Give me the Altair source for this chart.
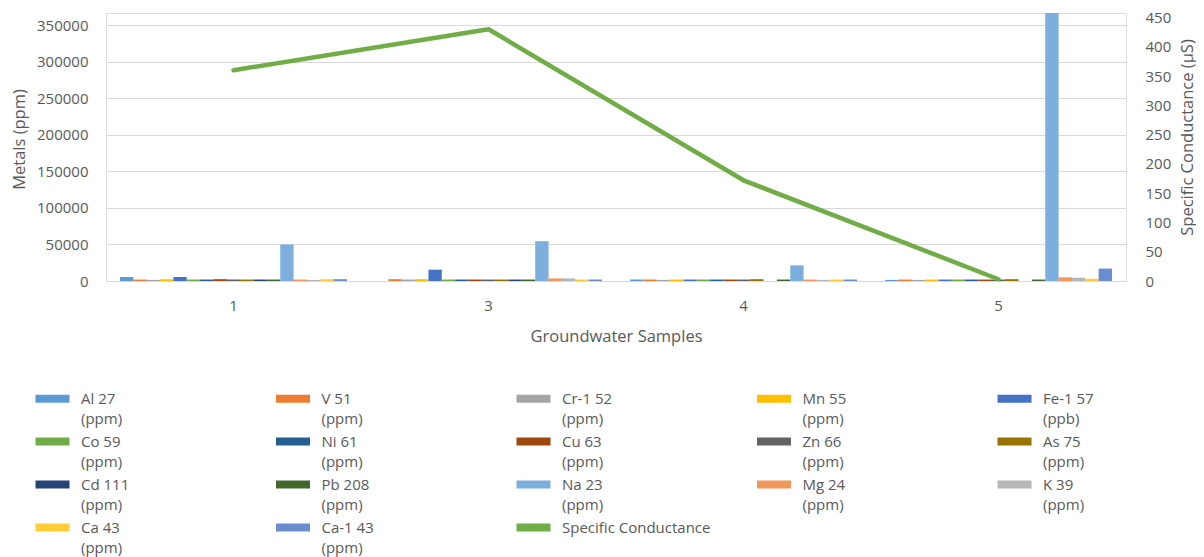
import altair as alt
import pandas as pd

samples = ["1", "3", "4", "5"]
metals = ["Al 27 (ppm)", "V 51 (ppm)", "Cr-1 52 (ppm)", "Mn 55 (ppm)", "Fe-1 57 (ppb)",
          "Co 59 (ppm)", "Ni 61 (ppm)", "Cu 63 (ppm)", "Zn 66 (ppm)", "As 75 (ppm)",
          "Cd 111 (ppm)", "Pb 208 (ppm)", "Na 23 (ppm)", "Mg 24 (ppm)", "K 39 (ppm)",
          "Ca 43 (ppm)", "Ca-1 43 (ppm)"]
metal_colors = ["#5b9bd5", "#ed7d31", "#a5a5a5", "#ffc000", "#4472c4",
                "#70ad47", "#255e91", "#9e480e", "#636363", "#997300",
                "#264478", "#43682b", "#7cafdd", "#f1975a", "#b7b7b7",
                "#ffcd33", "#698ed0"]

# metal values (ppm) per groundwater sample, in the order of `metals`
sample_1 = [5500, 2000, 1500, 2500, 5500, 2000, 2000, 2500, 2000, 2000, 2000, 2000, 50000, 2000, 1500, 2500, 2500]
sample_3 = [None, 2500, 2000, 2500, 15500, 2000, 2000, 2000, 2000, 2000, 2000, 2000, 54500, 3500, 3500, 2000, 2000]
sample_4 = [2000, 2000, 1500, 2000, 2000, 2000, 2000, 2000, 2000, 2500, None, 2000, 21500, 2000, 1500, 2000, 2000]
sample_5 = [1500, 2000, 1500, 2000, 2000, 2000, 2000, 2000, 2000, 2500, None, 2000, 367000, 5000, 4500, 3000, 17000]

line_name = "Specific Conductance"
line_color = "#70ad47"
conductance = [360, 430, 172, 3]

left_ticks = [0, 50000, 100000, 150000, 200000, 250000, 300000, 350000]
right_ticks = [0, 50, 100, 150, 200, 250, 300, 350, 400, 450]

rows = []
for s, vals in zip(samples, [sample_1, sample_3, sample_4, sample_5]):
    for m, v in zip(metals, vals):
        if v is not None:
            rows.append({"sample": s, "metal": m, "value": v})
bars_df = pd.DataFrame(rows)
line_df = pd.DataFrame({"sample": samples, "cond": conductance, "series": [line_name] * len(samples)})

FONT = "Open Sans"
TXT = "#595959"

color_scale = alt.Scale(domain=metals + [line_name], range=metal_colors + [line_color])

legend = alt.Legend(
    title=None, orient="none", legendX=-61, legendY=371, direction="horizontal",
    columns=5, gridAlign="all", columnPadding=45.5, rowPadding=0,
    symbolType="M-3.4,0.6H3.4V2.2H-3.4Z", symbolSize=100, symbolStrokeWidth=0, symbolOpacity=1,
    labelFont=FONT, labelFontSize=15, labelColor=TXT, labelOffset=21, labelLimit=400,
    labelBaseline="top",
    labelExpr="indexof(datum.label, ' (') > 0 ? [substring(datum.label, 0, indexof(datum.label, ' (')), substring(datum.label, indexof(datum.label, ' (') + 1)] : datum.label",
)

x_enc = alt.X("sample:N", sort=samples,
              scale=alt.Scale(domain=samples, paddingInner=0.11, paddingOuter=0.055),
              axis=alt.Axis(title="Groundwater Samples", labelAngle=0, ticks=False,
                            domainColor="#d9d9d9", labelPadding=17,
                            labelFont=FONT, labelFontSize=15, labelColor=TXT,
                            titleFont=FONT, titleFontSize=16.5, titleFontWeight="normal", titleColor=TXT,
                            titleY=55, titleBaseline="middle"))

bars = alt.Chart(bars_df).mark_bar().encode(
    x=x_enc,
    xOffset=alt.XOffset("metal:N", sort=metals, scale=alt.Scale(domain=metals, paddingInner=0, paddingOuter=0)),
    y=alt.Y("value:Q", scale=alt.Scale(domain=[0, 367000], nice=False, zero=True),
            axis=alt.Axis(title="Metals (ppm)", values=left_ticks, format="d", grid=True,
                          gridColor="#d9d9d9", gridWidth=1, domain=False, ticks=False, labelPadding=18,
                          labelFont=FONT, labelFontSize=15, labelColor=TXT,
                          titleFont=FONT, titleFontSize=16.5, titleFontWeight="normal", titleColor=TXT,
                          titleX=-87, titleY=126, titleBaseline="middle", titleAlign="center", titleAngle=270)),
    color=alt.Color("metal:N", scale=color_scale, legend=legend),
)

line = alt.Chart(line_df).mark_line(strokeWidth=4.5, strokeCap="round", strokeJoin="round").encode(
    x=alt.X("sample:N", sort=samples, bandPosition=0.5),
    y=alt.Y("cond:Q", scale=alt.Scale(domain=[0, 457.7], nice=False),
            axis=alt.Axis(title="Specific Conductance (µS)", orient="right", values=right_ticks, grid=False,
                          domain=False, ticks=False, labelPadding=19,
                          labelFont=FONT, labelFontSize=15, labelColor=TXT,
                          titleFont=FONT, titleFontSize=16.5, titleFontWeight="normal", titleColor=TXT,
                          titleX=61, titleY=124, titleBaseline="middle", titleAlign="center", titleAngle=270)),
    color=alt.Color("series:N", scale=color_scale, legend=legend),
)

chart = alt.layer(bars, line).resolve_scale(y="independent").properties(
    width=1020, height=268,
    padding={"left": 98, "top": 5, "right": 70, "bottom": 276},
    autosize=alt.AutoSizeParams(type="none"),
    background="white",
).configure_view(strokeWidth=0).configure(style={"guide-label": {"lineHeight": 20.2}})

chart.save("out.html", embed_options={"renderer": "svg", "actions": False})
